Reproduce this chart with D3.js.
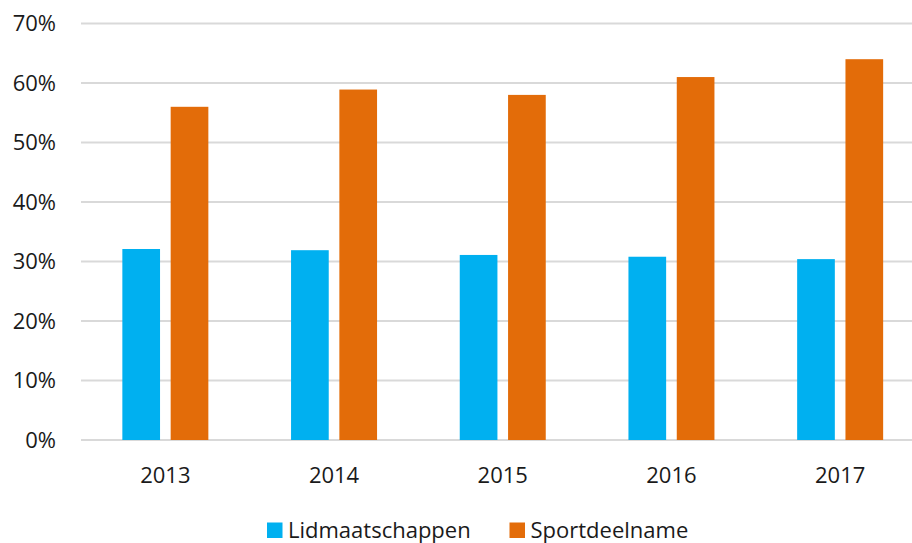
<!DOCTYPE html>
<html>
<head>
<meta charset="utf-8">
<script src="https://cdn.jsdelivr.net/npm/d3@7"></script>
<style>
  body { margin: 0; background: #fff; }
  svg { display: block; font-family: "Open Sans", sans-serif; }
</style>
</head>
<body>
<svg id="chart"></svg>
<script>
const years = ['2013', '2014', '2015', '2016', '2017'];
const seriesNames = ['Lidmaatschappen', 'Sportdeelname'];
const lidmaatschappen = [32.1, 31.9, 31.1, 30.8, 30.4];
const sportdeelname = [56.0, 58.9, 58.0, 61.0, 64.0];
const yTicks = [0, 10, 20, 30, 40, 50, 60, 70];
const colors = ['#00B0F0', '#E36C09'];

const W = 912, H = 543;
const svg = d3.select('#chart').attr('width', W).attr('height', H);

const data = years.map((y, i) => ({ year: y, values: [lidmaatschappen[i], sportdeelname[i]] }));

const x0 = d3.scaleBand().domain(years).range([81, 924.5]).padding(0);
const groupW = 86;
const x1 = d3.scaleBand().domain(seriesNames).range([0, groupW]).paddingInner(0.22).paddingOuter(0);
const y = d3.scaleLinear().domain([0, 70]).range([440, 23.5]);

// Grid lines
svg.append('g')
    .selectAll('line')
    .data(yTicks)
    .enter()
    .append('line')
    .attr('x1', 81)
    .attr('x2', 912)
    .attr('y1', d => y(d))
    .attr('y2', d => y(d))
    .attr('stroke', '#D9D9D9')
    .attr('stroke-width', 2);

// Y labels
svg.append('g')
    .selectAll('text')
    .data(yTicks)
    .enter()
    .append('text')
    .attr('x', 56)
    .attr('y', d => y(d))
    .attr('dy', '0.35em')
    .attr('text-anchor', 'end')
    .attr('font-size', '22px')
    .attr('fill', '#1a1a1a')
    .text(d => d + '%');

// Bars
const groups = svg.append('g')
    .selectAll('g')
    .data(data)
    .enter()
    .append('g')
    .attr('transform', d => `translate(${x0(d.year) + (x0.bandwidth() - groupW) / 2},0)`);

groups.selectAll('rect')
    .data(d => d.values.map((v, i) => ({ key: seriesNames[i], value: v, i })))
    .enter()
    .append('rect')
    .attr('x', d => x1(d.key))
    .attr('width', x1.bandwidth())
    .attr('y', d => y(d.value))
    .attr('height', d => y(0) - y(d.value))
    .attr('fill', d => colors[d.i]);

// X labels
svg.append('g')
    .selectAll('text')
    .data(years)
    .enter()
    .append('text')
    .attr('x', d => x0(d) + x0.bandwidth() / 2)
    .attr('y', 483)
    .attr('text-anchor', 'middle')
    .attr('font-size', '22px')
    .attr('fill', '#1a1a1a')
    .text(d => d);

// Legend
const legendX = [267, 509.5];
const legend = svg.append('g')
    .selectAll('g')
    .data(seriesNames)
    .enter()
    .append('g')
    .attr('transform', (d, i) => `translate(${legendX[i]},0)`);

legend.append('rect')
    .attr('x', 0)
    .attr('y', 522.5)
    .attr('width', 15.5)
    .attr('height', 15.5)
    .attr('fill', (d, i) => colors[i]);

legend.append('text')
    .attr('x', 21)
    .attr('y', 537.5)
    .attr('font-size', '22px')
    .attr('fill', '#1a1a1a')
    .text(d => d);
</script>
</body>
</html>
